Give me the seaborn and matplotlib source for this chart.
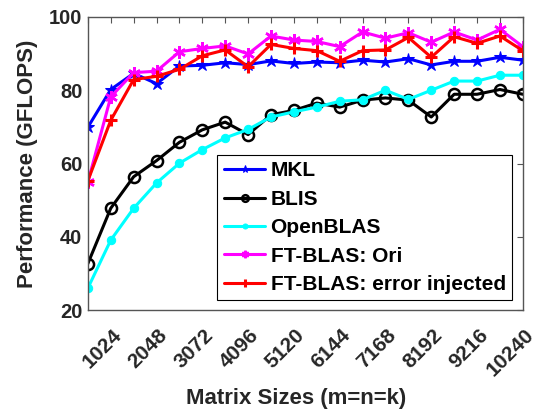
import matplotlib
matplotlib.use("Agg")
import matplotlib.pyplot as plt
import matplotlib.transforms as mtransforms
import seaborn as sns
import numpy as np
from matplotlib.ticker import MultipleLocator

sizes = [512 * i for i in range(1, 21)]
mkl = [69.9, 80.2, 84.6, 81.8, 86.6, 86.8, 87.5, 87.0, 88.0, 87.3,
       87.7, 87.5, 88.2, 87.7, 88.6, 86.9, 87.9, 87.9, 89.0, 88.2]
blis = [32.7, 47.8, 56.4, 60.8, 65.8, 69.2, 71.3, 67.9, 73.3, 74.5,
        76.5, 75.4, 77.3, 77.9, 77.3, 72.7, 78.9, 78.9, 80.2, 78.9]
openblas = [26.0, 39.1, 47.8, 54.7, 60.1, 63.8, 67.0, 69.3, 72.7, 74.1,
            75.4, 77.0, 77.4, 80.0, 77.5, 80.0, 82.5, 82.5, 84.1, 84.1]
ft_ori = [54.9, 78.2, 84.8, 85.2, 90.5, 91.4, 92.1, 89.9, 94.8, 93.7,
          93.3, 91.9, 95.9, 94.2, 95.7, 93.1, 95.9, 93.7, 96.6, 91.9]
ft_err = [55.3, 71.8, 82.9, 83.8, 85.7, 89.4, 91.0, 86.4, 92.5, 91.4,
          90.8, 87.9, 90.8, 91.0, 94.4, 89.0, 94.6, 92.8, 94.8, 90.8]
tick_labels = [str(v) for v in range(1024, 10241, 1024)]

sns.set_theme(style="white")
plt.rcParams['font.family'] = ['Liberation Sans', 'DejaVu Sans']
plt.rcParams['font.weight'] = 'bold'
text_color = '#262626'

fig = plt.figure(figsize=(5.39, 4.13), dpi=100)
ax = fig.add_axes([0.163, 0.249, 0.807, 0.710])

series = [
    ("MKL", mkl, '#0000ff', dict(marker='*', markersize=9, markerfacecolor='#0000ff', markeredgecolor='#0000ff')),
    ("BLIS", blis, '#000000', dict(marker='o', markersize=8, markerfacecolor='none', markeredgecolor='#000000', markeredgewidth=1.8)),
    ("OpenBLAS", openblas, '#00ffff', dict(marker='o', markersize=6, markerfacecolor='#00ffff', markeredgecolor='#00ffff')),
    ("FT-BLAS: Ori", ft_ori, '#ff00ff', dict(marker=(6, 2, 0), markersize=9, markeredgecolor='#ff00ff', markeredgewidth=1.8)),
    ("FT-BLAS: error injected", ft_err, '#ff0000', dict(marker='+', markersize=9, markeredgecolor='#ff0000', markeredgewidth=2.2)),
]
for name, vals, col, mk in series:
    sns.lineplot(x=sizes, y=vals, ax=ax, color=col, linewidth=2.2, label=name, **mk)

ax.set_xlim(512, 10240)
ax.set_ylim(20, 100)
ax.set_xticks(list(range(1024, 10241, 1024)))
ax.xaxis.set_minor_locator(MultipleLocator(512))
ax.set_yticks([20, 40, 60, 80, 100])
ax.tick_params(axis='both', which='both', direction='in', top=True, right=True, color='#555555')
ax.tick_params(axis='both', which='major', length=4, width=0.8)
ax.tick_params(axis='x', which='minor', length=4, width=0.8)
ax.tick_params(axis='x', which='major', pad=0)
ax.tick_params(axis='y', which='major', pad=4)
ax.set_xticklabels(tick_labels, fontsize=15, fontweight='bold', color=text_color)
ax.set_yticklabels(['20', '40', '60', '80', '100'], fontsize=14.5, fontweight='bold', color=text_color)
offset = mtransforms.ScaledTranslation(8 / 100, -22 / 100, fig.dpi_scale_trans)
for lab in ax.get_xticklabels():
    lab.set_rotation(45)
    lab.set_rotation_mode('anchor')
    lab.set_ha('right')
    lab.set_va('center')
    lab.set_transform(lab.get_transform() + offset)
for s in ax.spines.values():
    s.set_color('#555555')
    s.set_linewidth(1.0)

ax.set_xlabel("Matrix Sizes (m=n=k)", fontsize=16, fontweight='bold', color=text_color, labelpad=6)
ax.xaxis.label.set_x(0.478)
ax.set_ylabel("Performance (GFLOPS)", fontsize=16, fontweight='bold', color=text_color, labelpad=8)

leg = ax.legend(loc='lower right', bbox_to_anchor=(0.975, 0.034), frameon=True, fancybox=False,
                edgecolor='#000000', framealpha=1, borderaxespad=0, handlelength=2.0,
                prop={'weight': 'bold', 'size': 15}, labelspacing=0.45, handletextpad=0.25,
                borderpad=0.3, markerscale=0.6)
leg.get_frame().set_linewidth(0.8)
for t in leg.get_texts():
    t.set_color('#000000')

fig.savefig("out.png", dpi=100)
